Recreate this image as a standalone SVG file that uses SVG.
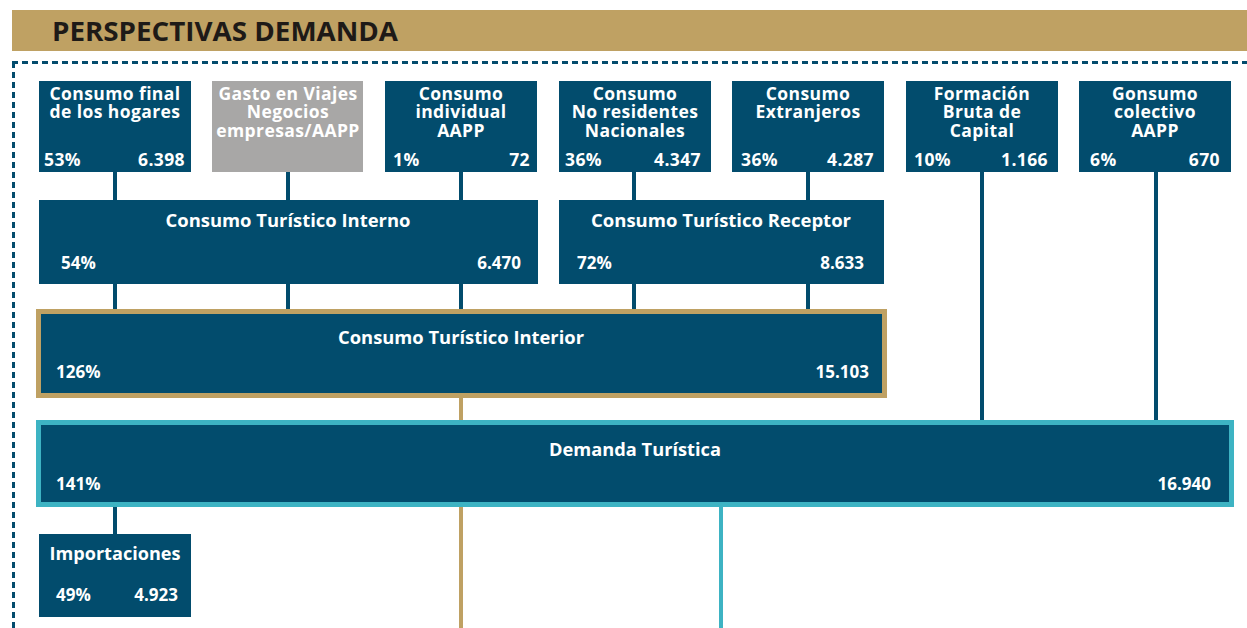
<svg xmlns="http://www.w3.org/2000/svg" width="1247" height="628" viewBox="0 0 1247 628">
<style>
.box{fill:#024c6d}
.gray{fill:#a8a7a6}
.t{font-family:"Open Sans","Noto Sans",sans-serif;font-weight:bold;fill:#ffffff;font-size:17.5px;letter-spacing:0.4px}
.tc{text-anchor:middle}
.te{text-anchor:end}
.r{font-family:"Open Sans","Noto Sans",sans-serif;font-weight:bold;fill:#ffffff;font-size:17px}
.ln{stroke:#024c6d;stroke-width:4;fill:none}
.lg{stroke:#bfa163;stroke-width:4;fill:none}
.lt{stroke:#3db3c3;stroke-width:4;fill:none}
</style>
<rect x="0" y="0" width="1247" height="628" fill="#ffffff"/>
<g id="header">
<rect x="12" y="10" width="1235" height="41" fill="#bfa163"/>
<text x="52" y="41" font-family="Open Sans, Noto Sans, sans-serif" font-weight="bold" font-size="26" fill="#1e1a17" textLength="346" lengthAdjust="spacingAndGlyphs">PERSPECTIVAS DEMANDA</text>
</g>
<g id="frame">
<path d="M12 62.5 H1247 M13.5 62 V628" stroke="#024c6d" stroke-width="3" stroke-dasharray="6 4" fill="none"/>
</g>
<g id="connectors">
<path class="ln" d="M115 172V200 M288 172V200 M461 172V200 M634 172V200 M808 172V200"/>
<path class="ln" d="M115 284V310 M288 284V310 M461 284V310 M634 284V310 M808 284V310"/>
<path class="ln" d="M982 172V421 M1156 172V421"/>
<path class="lg" d="M461 398V421 M461 507V628"/>
<path class="lt" d="M721 507V628"/>
<path class="ln" d="M115 507V534"/>
</g>
<g id="n1">
<rect class="box" x="39" y="81" width="152" height="91"/>
<text class="t tc" x="115" y="100">Consumo final</text>
<text class="t tc" x="115" y="118">de los hogares</text>
<text class="t" x="44" y="166">53%</text>
<text class="t te" x="185" y="166">6.398</text>
</g>
<g id="n2">
<rect class="gray" x="212" y="81" width="151" height="91"/>
<text class="t tc" x="288" y="100">Gasto en Viajes</text>
<text class="t tc" x="288" y="118">Negocios</text>
<text class="t tc" x="288" y="137">empresas/AAPP</text>
</g>
<g id="n3">
<rect class="box" x="385" y="81" width="152" height="91"/>
<text class="t tc" x="461" y="100">Consumo</text>
<text class="t tc" x="461" y="118">individual</text>
<text class="t tc" x="461" y="137">AAPP</text>
<text class="t" x="393" y="166">1%</text>
<text class="t te" x="530" y="166">72</text>
</g>
<g id="n4">
<rect class="box" x="559" y="81" width="152" height="91"/>
<text class="t tc" x="635" y="100">Consumo</text>
<text class="t tc" x="635" y="118">No residentes</text>
<text class="t tc" x="635" y="137">Nacionales</text>
<text class="t" x="565" y="166">36%</text>
<text class="t te" x="701" y="166">4.347</text>
</g>
<g id="n5">
<rect class="box" x="732" y="81" width="152" height="91"/>
<text class="t tc" x="808" y="100">Consumo</text>
<text class="t tc" x="808" y="118">Extranjeros</text>
<text class="t" x="741" y="166">36%</text>
<text class="t te" x="874" y="166">4.287</text>
</g>
<g id="n6">
<rect class="box" x="906" y="81" width="152" height="91"/>
<text class="t tc" x="982" y="100">Formación</text>
<text class="t tc" x="982" y="118">Bruta de</text>
<text class="t tc" x="982" y="137">Capital</text>
<text class="t" x="914" y="166">10%</text>
<text class="t te" x="1048" y="166">1.166</text>
</g>
<g id="n7">
<rect class="box" x="1079" y="81" width="152" height="91"/>
<text class="t tc" x="1155" y="100">Gonsumo</text>
<text class="t tc" x="1155" y="118">colectivo</text>
<text class="t tc" x="1155" y="137">AAPP</text>
<text class="t" x="1090" y="166">6%</text>
<text class="t te" x="1220" y="166">670</text>
</g>
<g id="interno">
<rect class="box" x="39" y="200" width="499" height="84"/>
<text class="r tc" x="288" y="227" textLength="245" lengthAdjust="spacingAndGlyphs">Consumo Turístico Interno</text>
<text class="r" x="61" y="269">54%</text>
<text class="r te" x="521" y="269">6.470</text>
</g>
<g id="receptor">
<rect class="box" x="559" y="200" width="325" height="84"/>
<text class="r tc" x="721" y="227" textLength="260" lengthAdjust="spacingAndGlyphs">Consumo Turístico Receptor</text>
<text class="r" x="577" y="269">72%</text>
<text class="r te" x="864" y="269">8.633</text>
</g>
<g id="interior">
<rect class="box" x="38.5" y="311.5" width="846" height="84" stroke="#bfa163" stroke-width="5"/>
<text class="r tc" x="461" y="344" textLength="246" lengthAdjust="spacingAndGlyphs">Consumo Turístico Interior</text>
<text class="r" x="56" y="378">126%</text>
<text class="r te" x="869" y="378">15.103</text>
</g>
<g id="demanda">
<rect class="box" x="38.5" y="422.5" width="1193" height="82" stroke="#3db3c3" stroke-width="5"/>
<text class="r tc" x="635" y="456" textLength="172" lengthAdjust="spacingAndGlyphs">Demanda Turística</text>
<text class="r" x="56" y="490">141%</text>
<text class="r te" x="1211" y="490">16.940</text>
</g>
<g id="importaciones">
<rect class="box" x="39" y="534" width="152" height="83"/>
<text class="r tc" x="115" y="560" textLength="131" lengthAdjust="spacingAndGlyphs">Importaciones</text>
<text class="r" x="56" y="601">49%</text>
<text class="r te" x="178" y="601">4.923</text>
</g>
</svg>
